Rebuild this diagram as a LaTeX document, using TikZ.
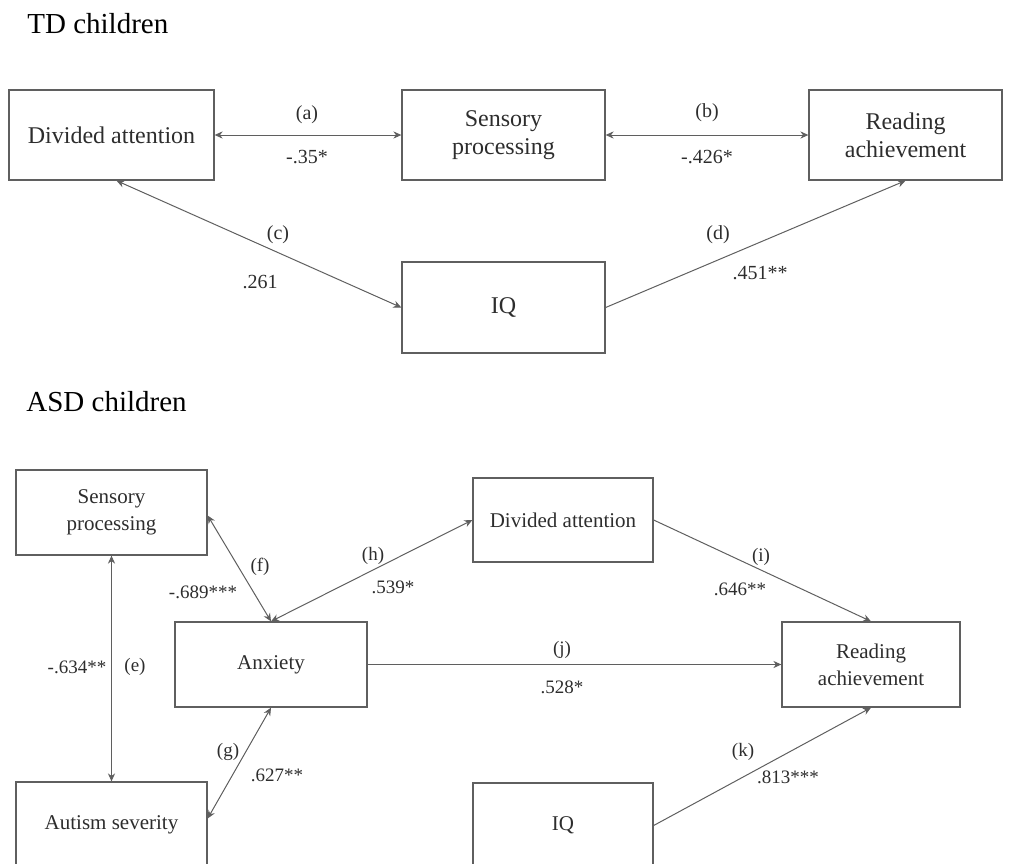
\documentclass[tikz,border=0pt]{standalone}
\usepackage{fontspec}
\setmainfont{Liberation Serif}
\usetikzlibrary{arrows.meta}

\definecolor{linegray}{RGB}{95,95,95}
\definecolor{textgray}{RGB}{45,45,45}

\begin{document}
\begin{tikzpicture}[x=0.5pt, y=-0.5pt,
            every node/.style={align=center, text=textgray},
            box/.style={draw=linegray, line width=0.65pt, rectangle, inner sep=0pt},
            tdbox/.style={box, font=\fontsize{12}{14}\selectfont},
            asdbox/.style={box, font=\fontsize{10.5}{13.5}\selectfont},
            title/.style={font=\fontsize{14.5}{17}\selectfont, text=black, anchor=base west, inner sep=0pt},
            tdlbl/.style={font=\fontsize{10}{12}\selectfont},
            asdlbl/.style={font=\fontsize{9.5}{11}\selectfont},
            link/.style={draw=linegray, line width=0.5pt, -{Stealth[length=4pt,width=3.6pt]}},
            both/.style={link, {Stealth[length=4pt,width=3.6pt]}-{Stealth[length=4pt,width=3.6pt]}}]
    \useasboundingbox (0,0) rectangle (1011,863);
    \clip (0,0) rectangle (1011,863);

    % TD children
    \node [title] (tdtitle) at (27,33) {TD children};
    \node [tdbox, minimum width=102.5pt, minimum height=45pt] (tddiv) at (111.5,135) {Divided attention};
    \node [tdbox, minimum width=101.5pt, minimum height=45pt] (tdsens) at (503.5,135) {Sensory\\processing};
    \node [tdbox, minimum width=96.5pt, minimum height=45pt] (tdread) at (905.5,135) {Reading\\achievement};
    \node [tdbox, minimum width=101.5pt, minimum height=45.5pt] (tdiq) at (503.5,307.5) {IQ};

    \draw [both] (tddiv.east) -- (tdsens.west);
    \draw [both] (tdsens.east) -- (tdread.west);
    \draw [both] ([xshift=2.5pt]tddiv.south) -- (tdiq.west);
    \draw [link] (tdiq.east) -- (tdread.south);

    \node [tdlbl] (la) at (307,115) {(a)};
    \node [tdlbl] (va) at (307,157) {-.35*};
    \node [tdlbl] (lb) at (707,113) {(b)};
    \node [tdlbl] (vb) at (707,157) {-.426*};
    \node [tdlbl] (lc) at (278,235) {(c)};
    \node [tdlbl] (vc) at (260,282) {.261};
    \node [tdlbl] (ld) at (718,235) {(d)};
    \node [tdlbl] (vd) at (760,273) {.451**};

    % ASD children
    \node [title] (asdtitle) at (26,411) {ASD children};
    \node [asdbox, minimum width=95.5pt, minimum height=42.5pt] (assens) at (111.5,512.5) {Sensory\\processing};
    \node [asdbox, minimum width=96pt, minimum height=42.5pt] (asanx) at (271,664.5) {Anxiety};
    \node [asdbox, minimum width=95.5pt, minimum height=42.5pt] (asaut) at (111.5,824.5) {Autism severity};
    \node [asdbox, minimum width=90pt, minimum height=42pt] (asdiv) at (563,520) {Divided attention};
    \node [asdbox, minimum width=89pt, minimum height=42.5pt] (asread) at (871,664.5) {Reading\\achievement};
    \node [asdbox, minimum width=90pt, minimum height=42.5pt] (asiq) at (563,825.5) {IQ};

    \draw [both] (assens.south) -- (asaut.north);
    \draw [both] ([yshift=-1.5pt]assens.east) -- (asanx.north);
    \draw [both] ([yshift=3pt]asaut.east) -- (asanx.south);
    \draw [both] (asanx.north) -- (asdiv.west);
    \draw [link] (asdiv.east) -- (asread.north);
    \draw [link] (asanx.east) -- (asread.west);
    \draw [link] (asiq.east) -- (asread.south);

    \node [asdlbl] (le) at (135,667) {(e)};
    \node [asdlbl] (ve) at (77,667) {-.634**};
    \node [asdlbl] (lf) at (260,567) {(f)};
    \node [asdlbl] (vf) at (203,592) {-.689***};
    \node [asdlbl] (lg) at (228,752) {(g)};
    \node [asdlbl] (vg) at (277,775) {.627**};
    \node [asdlbl] (lh) at (373,556) {(h)};
    \node [asdlbl] (vh) at (393,587) {.539*};
    \node [asdlbl] (li) at (761,557) {(i)};
    \node [asdlbl] (vi) at (740,589) {.646**};
    \node [asdlbl] (lj) at (562,650) {(j)};
    \node [asdlbl] (vj) at (562,687) {.528*};
    \node [asdlbl] (lk) at (743,752) {(k)};
    \node [asdlbl] (vk) at (788,777) {.813***};
\end{tikzpicture}
\end{document}
